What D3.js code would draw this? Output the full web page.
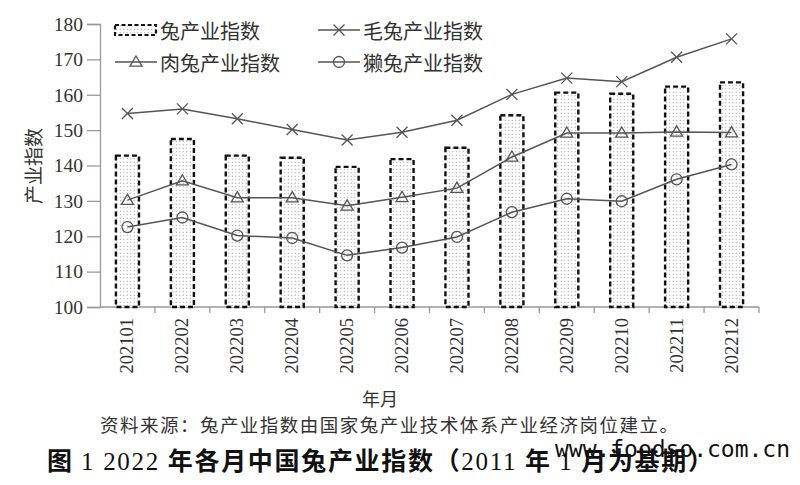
<!DOCTYPE html>
<html>
<head>
<meta charset="utf-8">
<script src="https://cdn.jsdelivr.net/npm/d3@7"></script>
<style>
  body { margin: 0; background: #fff; }
  svg { display: block; }
</style>
</head>
<body>
<div id="chart"></div>
<script>
const months = ['202101', '202202', '202203', '202204', '202205', '202206', '202207', '202208', '202209', '202210', '202211', '202212'];
const rabbitIndex = [142.8, 147.5, 142.8, 142.2, 139.6, 141.8, 145.0, 154.2, 160.6, 160.3, 162.3, 163.5];
const woolIndex = [154.7, 156.0, 153.2, 150.2, 147.2, 149.4, 152.8, 160.1, 164.7, 163.7, 170.6, 175.8];
const meatIndex = [130.2, 135.7, 130.9, 130.9, 128.6, 131.0, 133.6, 142.4, 149.2, 149.2, 149.5, 149.3];
const rexIndex = [122.6, 125.3, 120.2, 119.5, 114.6, 116.8, 119.8, 126.8, 130.6, 129.9, 136.1, 140.3];
const yTicks = [100, 110, 120, 130, 140, 150, 160, 170, 180];

const width = 800, height = 485;
const cjk = '"Noto Sans CJK SC", sans-serif';
const serif = '"Liberation Serif", "Times New Roman", serif';
const lineColor = '#555';
const textColor = '#333';

const svg = d3.select('#chart').append('svg')
    .attr('width', width)
    .attr('height', height);

const defs = svg.append('defs');
const pat = defs.append('pattern')
    .attr('id', 'dots')
    .attr('width', 3.5)
    .attr('height', 3.5)
    .attr('patternUnits', 'userSpaceOnUse');
pat.append('rect').attr('width', 3.5).attr('height', 3.5).attr('fill', '#fff');
pat.append('circle').attr('cx', 1.2).attr('cy', 1.2).attr('r', 0.55).attr('fill', '#777');

const x = d3.scaleBand().domain(months).range([100, 759]).padding(0);
const y = d3.scaleLinear().domain([100, 180]).range([307, 24]);
const cx = d => x(d) + x.bandwidth() / 2;
const barW = x.bandwidth() * 0.42;

// axes
const yAxis = svg.append('g')
    .attr('transform', 'translate(100,0)')
    .call(d3.axisLeft(y).tickValues(yTicks).tickSize(13).tickPadding(4));
yAxis.select('.domain').attr('stroke', '#999').attr('stroke-width', 1.3);
yAxis.selectAll('.tick line').attr('stroke', '#999').attr('stroke-width', 1.3);
yAxis.selectAll('.tick text')
    .attr('fill', textColor)
    .style('font-family', serif)
    .style('font-size', '19.5px');

const xAxis = svg.append('g').attr('transform', 'translate(0,307)');
xAxis.append('line')
    .attr('x1', 100).attr('x2', 759)
    .attr('stroke', '#999').attr('stroke-width', 1.3);
xAxis.selectAll('.edge')
    .data(months)
    .enter().append('line')
    .attr('x1', d => x(d) + x.bandwidth())
    .attr('x2', d => x(d) + x.bandwidth())
    .attr('y1', 0).attr('y2', 6)
    .attr('stroke', '#999').attr('stroke-width', 1.3);
xAxis.selectAll('.lbl')
    .data(months)
    .enter().append('text')
    .attr('transform', d => `translate(${cx(d) + 6},11) rotate(-90)`)
    .attr('text-anchor', 'end')
    .attr('fill', textColor)
    .style('font-family', serif)
    .style('font-size', '18.5px')
    .text(d => d);

// bars
svg.selectAll('.bar')
    .data(months)
    .enter().append('rect')
    .attr('x', d => cx(d) - barW / 2)
    .attr('y', (d, i) => y(rabbitIndex[i]))
    .attr('width', barW)
    .attr('height', (d, i) => y(100) - y(rabbitIndex[i]))
    .attr('fill', 'url(#dots)')
    .attr('stroke', '#111')
    .attr('stroke-width', 2.4)
    .attr('stroke-dasharray', '5,3');

const line = d3.line().x(d => cx(d.m)).y(d => y(d.v));
const series = [
    { values: woolIndex, marker: 'x' },
    { values: meatIndex, marker: 'tri' },
    { values: rexIndex, marker: 'circle' }
];

function drawMarker(g, type, px, py) {
    if (type === 'x') {
        const s = 5.5;
        g.append('path')
            .attr('d', `M${px - s},${py - s}L${px + s},${py + s}M${px - s},${py + s}L${px + s},${py - s}`)
            .attr('stroke', lineColor).attr('stroke-width', 1.3).attr('fill', 'none');
    } else if (type === 'tri') {
        const s = 6;
        g.append('path')
            .attr('d', `M${px},${py - s}L${px + s},${py + s * 0.7}L${px - s},${py + s * 0.7}Z`)
            .attr('stroke', lineColor).attr('stroke-width', 1.3).attr('fill', 'none');
    } else {
        g.append('circle')
            .attr('cx', px).attr('cy', py).attr('r', 5.5)
            .attr('stroke', lineColor).attr('stroke-width', 1.3).attr('fill', 'none');
    }
}

series.forEach(s => {
    const pts = months.map((m, i) => ({ m, v: s.values[i] }));
    svg.append('path')
        .attr('d', line(pts))
        .attr('fill', 'none')
        .attr('stroke', lineColor)
        .attr('stroke-width', 1.5);
    const g = svg.append('g');
    pts.forEach(p => drawMarker(g, s.marker, cx(p.m), y(p.v)));
});

// legend
const legend = [
    { label: '兔产业指数', type: 'bar', lx: 115, ly: 30 },
    { label: '毛兔产业指数', type: 'x', lx: 318, ly: 30 },
    { label: '肉兔产业指数', type: 'tri', lx: 115, ly: 62 },
    { label: '獭兔产业指数', type: 'circle', lx: 318, ly: 62 }
];
const lg = svg.append('g');
legend.forEach(d => {
    if (d.type === 'bar') {
        lg.append('rect')
            .attr('x', d.lx).attr('y', d.ly - 5)
            .attr('width', 41).attr('height', 10)
            .attr('fill', 'url(#dots)')
            .attr('stroke', '#111').attr('stroke-width', 2.2)
            .attr('stroke-dasharray', '4,2.5');
    } else {
        lg.append('line')
            .attr('x1', d.lx).attr('x2', d.lx + 42)
            .attr('y1', d.ly).attr('y2', d.ly)
            .attr('stroke', lineColor).attr('stroke-width', 1.5);
        drawMarker(lg, d.type, d.lx + 21, d.ly);
    }
    lg.append('text')
        .attr('x', d.lx + 45).attr('y', d.ly)
        .attr('dominant-baseline', 'central')
        .attr('fill', textColor)
        .style('font-family', cjk)
        .style('font-size', '20px')
        .text(d.label);
});

// axis titles
svg.append('text')
    .attr('transform', 'translate(41,166) rotate(-90)')
    .attr('text-anchor', 'middle')
    .attr('fill', textColor)
    .style('font-family', cjk)
    .style('font-size', '19px')
    .text('产业指数');

svg.append('text')
    .attr('x', 380).attr('y', 406)
    .attr('text-anchor', 'middle')
    .attr('fill', textColor)
    .style('font-family', cjk)
    .style('font-size', '18px')
    .text('年月');

svg.append('text')
    .attr('x', 100).attr('y', 432)
    .attr('fill', textColor)
    .attr('textLength', 578)
    .attr('lengthAdjust', 'spacing')
    .style('font-family', cjk)
    .style('font-size', '18.5px')
    .text('资料来源：兔产业指数由国家兔产业技术体系产业经济岗位建立。');

svg.append('text')
    .attr('x', 555).attr('y', 457)
    .attr('fill', '#111')
    .attr('textLength', 235)
    .attr('lengthAdjust', 'spacing')
    .style('font-family', '"DejaVu Sans Mono", monospace')
    .style('font-size', '23px')
    .text('www.foodso.com.cn');

const title = svg.append('text')
    .attr('x', 47).attr('y', 470)
    .attr('fill', '#111')
    .attr('textLength', 666)
    .attr('lengthAdjust', 'spacing')
    .style('font-family', cjk)
    .style('font-size', '25px')
    .style('font-weight', 'bold');
title.append('tspan').text('图 ');
title.append('tspan').style('font-family', serif).style('font-weight', 'normal').text('1 2022 ');
title.append('tspan').text('年各月中国兔产业指数（');
title.append('tspan').style('font-family', serif).style('font-weight', 'normal').text('2011 ');
title.append('tspan').text('年 ');
title.append('tspan').style('font-family', serif).style('font-weight', 'normal').text('1 ');
title.append('tspan').text('月为基期）');
</script>
</body>
</html>
